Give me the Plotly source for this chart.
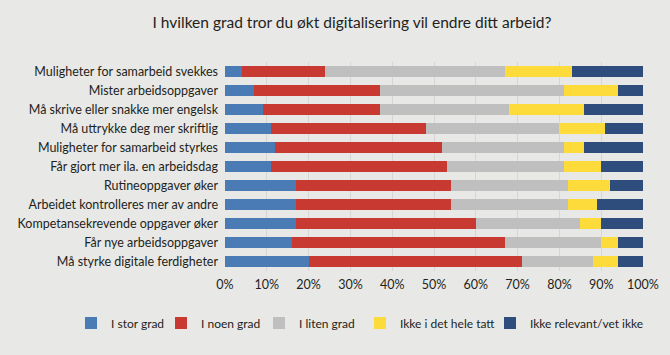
import plotly.graph_objects as go

categories = [
    "Muligheter for samarbeid svekkes",
    "Mister arbeidsoppgaver",
    "Må skrive eller snakke mer engelsk",
    "Må uttrykke deg mer skriftlig",
    "Muligheter for samarbeid styrkes",
    "Får gjort mer ila. en arbeidsdag",
    "Rutineoppgaver øker",
    "Arbeidet kontrolleres mer av andre",
    "Kompetansekrevende oppgaver øker",
    "Får nye arbeidsoppgaver",
    "Må styrke digitale ferdigheter",
]
i_stor_grad = [4, 7, 9, 11, 12, 11, 17, 17, 17, 16, 20]
i_noen_grad = [20, 30, 28, 37, 40, 42, 37, 37, 43, 51, 51]
i_liten_grad = [43, 44, 31, 32, 29, 28, 28, 28, 25, 23, 17]
ikke_i_det_hele_tatt = [16, 13, 18, 11, 5, 9, 10, 7, 5, 4, 6]
ikke_relevant = [17, 6, 14, 9, 14, 10, 8, 11, 10, 6, 6]

series_names = ["I stor grad", "I noen grad", "I liten grad", "Ikke i det hele tatt", "Ikke relevant/vet ikke"]
series_values = [i_stor_grad, i_noen_grad, i_liten_grad, ikke_i_det_hele_tatt, ikke_relevant]
colors = ["#4a7bb4", "#c83a31", "#bfbfbf", "#fddb3a", "#2e4d7c"]

tick_vals = [0, 10, 20, 30, 40, 50, 60, 70, 80, 90, 100]
tick_text = [f"{v}%" for v in tick_vals]

FONT = "Lato"
BG = "#e8e8e6"
W, H = 670, 355

# left x (px) of each legend entry
legend_x = [71, 161, 259, 360, 490]

fig = go.Figure()
legend_ids = ["legend", "legend2", "legend3", "legend4", "legend5"]
for name, vals, col, lid in zip(series_names, series_values, colors, legend_ids):
    fig.add_trace(go.Bar(
        y=categories, x=vals, name=name, orientation="h",
        marker=dict(color=col, line=dict(width=0)),
        legend=lid,
    ))

legend_common = dict(orientation="h", xref="container", yref="container",
                     xanchor="left", y=1 - 323 / H, yanchor="middle",
                     font=dict(size=12, family=FONT, color="#231f20"),
                     bgcolor="rgba(0,0,0,0)", borderwidth=0)
layout_legends = {}
for lid, lx in zip(legend_ids, legend_x):
    layout_legends[lid] = dict(legend_common, x=lx / W)

fig.update_layout(
    barmode="stack",
    bargap=0.42,
    width=W, height=H,
    paper_bgcolor=BG,
    plot_bgcolor=BG,
    margin=dict(l=225, r=27, t=62, b=84, autoexpand=False),
    font=dict(family=FONT, size=12, color="#231f20"),
    title=dict(text="I hvilken grad tror du økt digitalisering vil endre ditt arbeid?",
               xref="container", yref="container",
               x=352 / W, xanchor="center", y=1 - 23 / H, yanchor="middle",
               font=dict(family=FONT, size=15.5, color="#231f20")),
    xaxis=dict(range=[0, 100], tickvals=tick_vals, ticktext=tick_text,
               showgrid=True, gridcolor="#d6d6d4", gridwidth=1,
               zeroline=False, showline=False, ticks="", automargin=False,
               tickfont=dict(size=12.5), ticklabelstandoff=4, fixedrange=True),
    yaxis=dict(autorange="reversed", showgrid=False, ticks="", automargin=False,
               tickfont=dict(size=12.5), ticklabelstandoff=6, fixedrange=True),
    showlegend=True,
    **layout_legends,
)

fig.write_html(
    "out.html",
    config={"displayModeBar": False},
    post_script="document.body.style.margin='0';document.body.style.background='%s';" % BG,
)
